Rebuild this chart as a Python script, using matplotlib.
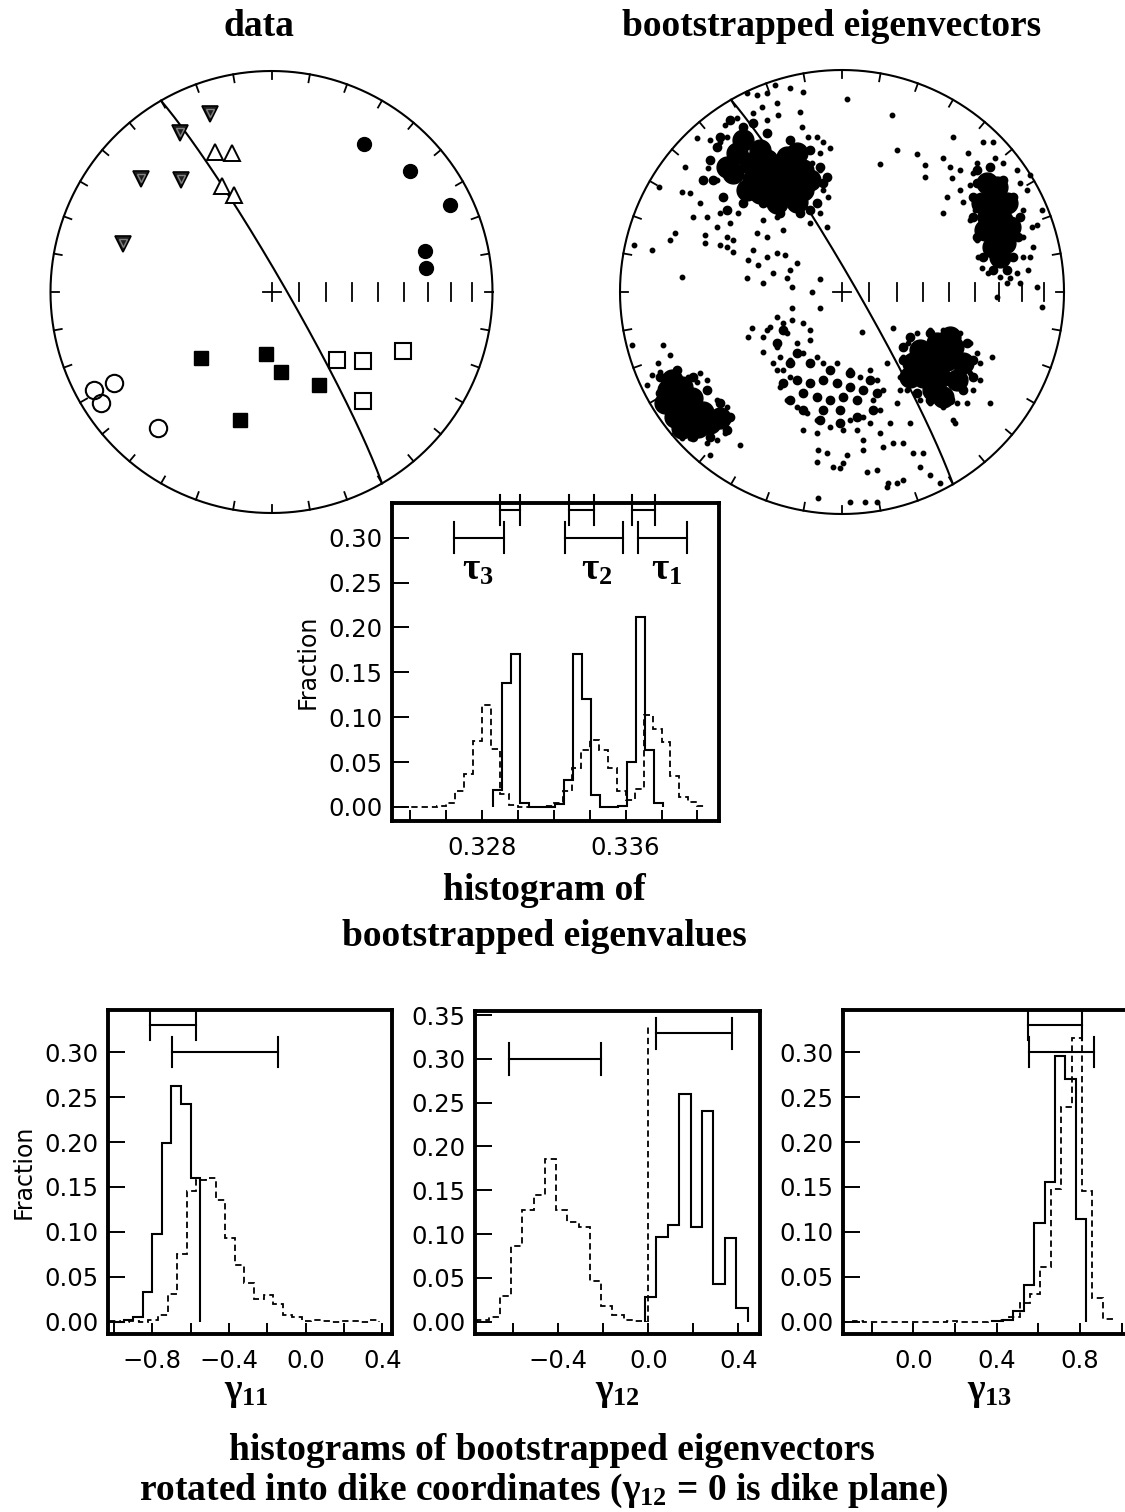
import numpy as np
import matplotlib
matplotlib.use("Agg")
import matplotlib.pyplot as plt
from matplotlib.ticker import FixedLocator, FixedFormatter

# ---------------------------------------------------------------- data
# AMS principal axes of the dike samples: declination / inclination (deg)
tri_gray_dec = [341, 330, 311, 321, 288]
tri_gray_inc = [16, 18, 23, 35, 30]
tri_open_dec = [338, 344, 335, 339]
tri_open_inc = [32, 35, 46, 51]
circ_fill_dec = [32, 49, 64, 75, 81]
circ_fill_inc = [22, 18, 11, 29, 30]
circ_open_dec = [241, 240, 237, 220]
circ_open_inc = [9, 19, 9, 21]
sq_fill_dec = [227, 185, 173, 153, 194]
sq_fill_inc = [54, 67, 60, 51, 40]
sq_open_dec = [136, 127, 114, 140]
sq_open_inc = [55, 47, 35, 36]

# dike plane (strike, dip; right-hand rule)
dike_strike, dike_dip = 330.0, 85.0

# bootstrapped eigenvectors, Lambert equal-area coordinates (east, north)
# solid cores of the clouds
boot_core = [
    (-0.249, 0.520), (-0.324, 0.550), (-0.174, 0.550), (-0.249, 0.610), (-0.249, 0.444),
    (-0.324, 0.474), (-0.174, 0.459), (-0.144, 0.505), (-0.339, 0.595), (-0.204, 0.625),
    (-0.294, 0.399), (-0.204, 0.407), (-0.414, 0.580), (-0.474, 0.625), (-0.369, 0.640),
    (-0.489, 0.535), (-0.399, 0.505), (-0.444, 0.685), (-0.354, 0.550), (-0.520, 0.565),
    (-0.429, 0.459), (-0.369, 0.444), (-0.294, 0.505), (-0.384, 0.565), (-0.264, 0.565),
    (-0.204, 0.505),
    (0.652, 0.489), (0.674, 0.429), (0.697, 0.369), (0.682, 0.309), (0.719, 0.324),
    (0.659, 0.339), (0.704, 0.249), (0.682, 0.204), (0.734, 0.219), (0.644, 0.279),
    (0.742, 0.399), (0.712, 0.159), (0.757, 0.294), (0.629, 0.399), (0.697, 0.474),
    (-0.782, -0.441), (-0.722, -0.426), (-0.797, -0.502), (-0.737, -0.494), (-0.677, -0.479),
    (-0.752, -0.562), (-0.685, -0.554), (-0.625, -0.539), (-0.595, -0.592), (-0.550, -0.569),
    (-0.647, -0.607), (-0.722, -0.614), (-0.767, -0.396), (-0.760, -0.486),
    (0.351, -0.261), (0.426, -0.231), (0.502, -0.246), (0.321, -0.321), (0.396, -0.306),
    (0.471, -0.306), (0.547, -0.321), (0.366, -0.381), (0.441, -0.381), (0.517, -0.396),
    (0.411, -0.441), (0.486, -0.201), (0.306, -0.381), (0.456, -0.471),
]
# crowded directions around the cores
boot_dense = [
    (-0.550, 0.700), (-0.444, 0.745), (-0.339, 0.715), (-0.234, 0.685), (-0.144, 0.640),
    (-0.099, 0.565), (-0.084, 0.489), (-0.114, 0.399), (-0.189, 0.354), (-0.279, 0.354),
    (-0.354, 0.399), (-0.444, 0.399), (-0.535, 0.429), (-0.580, 0.505), (-0.595, 0.595),
    (-0.565, 0.655), (-0.339, 0.505), (-0.459, 0.550), (-0.505, 0.775), (-0.399, 0.760),
    (-0.625, 0.505), (-0.520, 0.369), (-0.144, 0.369), (-0.069, 0.520),
    (0.607, 0.550), (0.667, 0.565), (0.727, 0.505), (0.772, 0.429), (0.802, 0.339),
    (0.794, 0.249), (0.772, 0.159), (0.742, 0.099), (0.682, 0.099), (0.637, 0.159),
    (0.607, 0.249), (0.592, 0.339), (0.592, 0.429), (0.607, 0.489),
    (-0.820, -0.381), (-0.745, -0.351), (-0.670, -0.381), (-0.610, -0.441), (-0.550, -0.502),
    (-0.505, -0.562), (-0.520, -0.622), (-0.595, -0.652), (-0.670, -0.652), (-0.745, -0.622),
    (-0.820, -0.456),
    (-0.144, -0.411), (-0.084, -0.396), (-0.024, -0.411), (0.036, -0.426), (-0.114, -0.471),
    (-0.054, -0.486), (0.006, -0.471), (0.066, -0.486), (-0.084, -0.532), (-0.009, -0.532),
    (-0.174, -0.456), (0.096, -0.441), (-0.204, -0.396), (-0.234, -0.321), (-0.144, -0.321),
    (-0.054, -0.351), (0.036, -0.366), (0.126, -0.396), (0.156, -0.456), (0.141, -0.532),
    (0.066, -0.562), (-0.009, -0.592), (-0.099, -0.577), (-0.174, -0.532), (-0.234, -0.486),
    (-0.264, -0.411), (-0.204, -0.276), (-0.294, -0.231), (-0.264, -0.171),
    (0.306, -0.201), (0.396, -0.186), (0.486, -0.186), (0.562, -0.231), (0.592, -0.306),
    (0.592, -0.381), (0.547, -0.441), (0.486, -0.486), (0.396, -0.486), (0.336, -0.456),
    (0.291, -0.396), (0.276, -0.306), (0.276, -0.246),
]
# individual bootstrap directions
boot_pts = [
    (-0.302, 0.932), (-0.339, 0.895), (-0.384, 0.887), (-0.429, 0.895), (-0.234, 0.917),
    (-0.174, 0.902), (-0.294, 0.850), (-0.362, 0.835), (-0.399, 0.805), (-0.287, 0.797),
    (-0.339, 0.775), (-0.474, 0.782), (-0.527, 0.752), (-0.520, 0.700), (-0.595, 0.685),
    (-0.550, 0.677), (-0.655, 0.692), (-0.707, 0.565), (-0.602, 0.557), (-0.565, 0.505),
    (-0.685, 0.444), (-0.722, 0.452), (-0.640, 0.399), (-0.670, 0.339), (-0.610, 0.339),
    (-0.550, 0.354), (-0.505, 0.309), (-0.467, 0.354), (-0.565, 0.294), (-0.520, 0.249),
    (-0.617, 0.257), (-0.489, 0.234), (-0.384, 0.264), (-0.354, 0.324), (-0.294, 0.339),
    (-0.339, 0.249), (-0.264, 0.279), (-0.399, 0.189), (-0.339, 0.159), (-0.294, 0.174),
    (-0.257, 0.167), (-0.422, 0.144), (-0.429, 0.062), (-0.377, 0.122), (-0.309, 0.084),
    (-0.249, 0.062), (-0.227, 0.024), (-0.204, 0.129), (-0.234, 0.099), (-0.144, 0.309),
    (-0.099, 0.354), (-0.069, 0.294), (-0.084, 0.459), (-0.062, 0.429), (-0.099, 0.625),
    (-0.084, 0.677), (-0.054, 0.647), (-0.114, 0.700), (-0.189, 0.812), (-0.182, 0.745),
    (-0.152, 0.700), (-0.137, 0.580), (-0.099, 0.550), (-0.520, 0.204), (-0.550, 0.212),
    (-0.617, 0.219), (-0.489, 0.182), (-0.752, 0.264), (-0.775, 0.234), (-0.854, 0.189),
    (-0.937, 0.212), (-0.823, 0.471), (-0.722, 0.069), (-0.099, 0.057), (-0.137, 0.002),
    (-0.354, 0.039),
    (0.021, 0.868), (0.224, 0.797), (0.246, 0.640), (0.171, 0.575), (0.339, 0.622),
    (0.374, 0.572), (0.374, 0.517), (0.502, 0.700), (0.456, 0.354),
    (0.456, 0.602), (0.486, 0.565), (0.532, 0.550), (0.494, 0.512), (0.569, 0.625),
    (0.637, 0.677), (0.682, 0.677), (0.607, 0.580), (0.689, 0.602), (0.577, 0.482),
    (0.532, 0.459), (0.547, 0.407), (0.592, 0.535), (0.471, 0.429), (0.599, 0.369),
    (0.577, 0.324), (0.607, 0.234), (0.614, 0.159), (0.629, 0.107), (0.659, 0.084),
    (0.712, 0.069), (0.742, 0.039), (0.757, 0.062), (0.787, 0.084), (0.817, 0.159),
    (0.839, 0.099), (0.862, 0.204), (0.877, 0.302), (0.899, 0.369), (0.832, 0.459),
    (0.847, 0.527), (0.802, 0.489), (0.787, 0.550), (0.817, 0.369), (0.854, 0.294),
    (0.727, 0.580), (0.802, 0.039), (0.877, 0.024), (0.899, -0.066), (0.697, -0.021),
    (0.817, 0.249), (0.847, 0.159),
    (-0.805, -0.239), (-0.775, -0.284), (-0.827, -0.321), (-0.857, -0.374), (-0.820, -0.359),
    (-0.640, -0.366), (-0.610, -0.396), (-0.565, -0.486), (-0.520, -0.517), (-0.512, -0.577),
    (-0.527, -0.637), (-0.565, -0.667), (-0.610, -0.682), (-0.595, -0.734), (-0.685, -0.659),
    (-0.722, -0.659), (-0.880, -0.419), (-0.459, -0.689), (-0.655, -0.404), (-0.745, -0.359),
    (-0.692, -0.381), (-0.947, -0.239),
    (-0.324, -0.156), (-0.294, -0.111), (-0.264, -0.141), (-0.227, -0.126), (-0.249, -0.186),
    (-0.204, -0.231), (-0.294, -0.246), (-0.279, -0.291), (-0.234, -0.306), (-0.174, -0.276),
    (-0.144, -0.216), (-0.114, -0.291), (-0.084, -0.321), (-0.024, -0.321), (0.036, -0.351),
    (0.081, -0.381), (0.126, -0.351), (0.156, -0.396), (0.186, -0.441), (0.141, -0.486),
    (0.171, -0.532), (0.096, -0.562), (0.036, -0.577), (0.006, -0.622), (-0.054, -0.607),
    (-0.114, -0.577), (-0.159, -0.547), (-0.204, -0.517), (-0.249, -0.486), (-0.279, -0.426),
    (-0.294, -0.351), (-0.234, -0.381), (-0.339, -0.171), (-0.174, -0.141), (-0.144, -0.171),
    (-0.354, -0.201), (-0.309, -0.321), (-0.264, -0.351), (0.201, -0.321), (0.126, -0.592),
    (0.066, -0.622), (-0.114, -0.637), (-0.174, -0.622), (0.096, -0.667), (0.171, -0.637),
    (-0.227, -0.074), (-0.099, -0.071), (-0.407, -0.164), (-0.422, -0.201), (-0.354, -0.269),
    (0.089, -0.179), (0.231, -0.164), (0.246, -0.502), (0.261, -0.441), (0.216, -0.592),
    (0.231, -0.682), (0.276, -0.682), (0.321, -0.727), (0.366, -0.727), (0.396, -0.824),
    (0.441, -0.862), (0.351, -0.787), (0.276, -0.847), (0.246, -0.862), (0.201, -0.877),
    (0.156, -0.802), (0.111, -0.809), (0.036, -0.944), (0.104, -0.944), (0.156, -0.944),
    (0.006, -0.772), (-0.009, -0.794), (-0.039, -0.787), (-0.069, -0.727), (-0.107, -0.712),
    (-0.114, -0.764), (0.021, -0.734), (0.096, -0.712), (0.186, -0.697), (0.306, -0.592),
    (-0.107, -0.929), (0.209, -0.862),
    (0.336, -0.186), (0.396, -0.171), (0.456, -0.171), (0.532, -0.186), (0.577, -0.231),
    (0.607, -0.276), (0.622, -0.321), (0.622, -0.396), (0.592, -0.441), (0.562, -0.502),
    (0.517, -0.502), (0.456, -0.517), (0.396, -0.502), (0.351, -0.486), (0.291, -0.441),
    (0.261, -0.381), (0.276, -0.291), (0.299, -0.231), (0.674, -0.291), (0.667, -0.502),
    (0.502, -0.577), (0.509, -0.592), (0.577, -0.366),
]

# bootstrapped eigenvalues: histogram fractions (bin start, bin width, heights)
tau_boot_start, tau_boot_width = 0.3286, 0.0005
tau_boot = [0.019, 0.138, 0.170, 0.005, 0, 0, 0, 0.003, 0.030, 0.170, 0.120, 0.013,
            0, 0, 0.001, 0.050, 0.212, 0.063, 0.005]
tau_param_start, tau_param_width = 0.3235, 0.0005
tau_param = [0, 0, 0, 0, 0.001, 0.005, 0.018, 0.037, 0.073, 0.114, 0.065, 0.014, 0.002,
             0, 0, 0, 0.001, 0.005, 0.018, 0.043, 0.064, 0.075, 0.064, 0.043, 0.018,
             0.008, 0.020, 0.102, 0.087, 0.072, 0.035, 0.011, 0.006, 0.001]
tau_boot_ci = [(0.32902, 0.33014), (0.33284, 0.33423), (0.33637, 0.33764)]
tau_param_ci = [(0.32647, 0.32921), (0.33261, 0.33585), (0.33671, 0.33944)]
tau_names = [r"$\tau_3$", r"$\tau_2$", r"$\tau_1$"]
tau_label_x = [0.3278, 0.3344, 0.3383]

# eigenvector components in dike coordinates
g11_boot_start, g11_boot_width = -1.00, 0.05
g11_boot = [0.0, 0.002, 0.005, 0.033, 0.098, 0.199, 0.262, 0.242, 0.160]
g11_param_start, g11_param_width = -1.02, 0.05
g11_param = [0.001, 0.0, 0.001, 0.0, 0.002, 0.007, 0.031, 0.075, 0.145, 0.158, 0.160,
             0.136, 0.093, 0.063, 0.043, 0.025, 0.030, 0.020, 0.007, 0.005, 0.001,
             0.002, 0.001, 0.0, 0.001, 0.001, 0.0, 0.002]
g11_boot_ci = (-0.81, -0.57)
g11_param_ci = (-0.696, -0.143)

g12_boot_start, g12_boot_width = -0.015, 0.0507
g12_boot = [0.028, 0.097, 0.110, 0.260, 0.108, 0.240, 0.043, 0.096, 0.016]
g12_param_start, g12_param_width = -0.76, 0.05
g12_param = [0.002, 0.005, 0.029, 0.086, 0.127, 0.145, 0.186, 0.128, 0.114, 0.108,
             0.046, 0.018, 0.008, 0.002, 0.001]
g12_boot_ci = (0.034, 0.371)
g12_param_ci = (-0.619, -0.210)

g13_boot_start, g13_boot_width = 0.38, 0.05
g13_boot = [0.001, 0.002, 0.012, 0.041, 0.110, 0.155, 0.296, 0.270, 0.114]
g13_param_start, g13_param_width = -0.34, 0.05
g13_param = [0, 0.001, 0, 0, 0, 0, 0, 0, 0, 0, 0.001, 0, 0, 0, 0.001, 0.002,
             0.005, 0.021, 0.031, 0.061, 0.148, 0.239, 0.316, 0.146, 0.026, 0.003]
g13_boot_ci = (0.549, 0.808)
g13_param_ci = (0.557, 0.869)

# ---------------------------------------------------------------- style
W, H = 1125, 1512
plt.rcParams.update({
    "font.family": ["DejaVu Sans"],
    "mathtext.fontset": "custom",
    "mathtext.rm": "Liberation Serif:bold",
    "mathtext.it": "Liberation Serif:bold",
    "mathtext.bf": "Liberation Serif:bold",
    "mathtext.sf": "Liberation Serif:bold",
})
SERIF = dict(family="Liberation Serif", weight="bold", fontsize=27)

fig = plt.figure(figsize=(W / 100, H / 100), dpi=100)


def px_axes(left, top, right, bottom):
    return fig.add_axes([left / W, (H - bottom) / H, (right - left) / W, (bottom - top) / H])


def fig_text(x, y, s, **kw):
    fig.text(x / W, (H - y) / H, s, **kw)


def project(dec, inc):
    dec = np.radians(np.asarray(dec, float))
    inc = np.radians(np.asarray(inc, float))
    r = np.sqrt(2.0) * np.sin((np.pi / 2 - inc) / 2)
    return r * np.sin(dec), r * np.cos(dec)


def stereonet(cx, cy, R):
    half = 1.1 * R
    ax = px_axes(cx - half, cy - half, cx + half, cy + half)
    ax.set_xlim(-1.1, 1.1)
    ax.set_ylim(-1.1, 1.1)
    ax.set_aspect("equal")
    ax.axis("off")
    ax.patch.set_alpha(0)
    t = np.linspace(0, 2 * np.pi, 721)
    ax.plot(np.cos(t), np.sin(t), color="k", lw=1.5)
    tick = 8.0 / R
    for az in np.radians(np.arange(0, 360, 10)):
        ax.plot([(1 - tick) * np.sin(az), np.sin(az)],
                [(1 - tick) * np.cos(az), np.cos(az)], color="k", lw=1.3)
    c = 9.0 / R
    ax.plot([-c, c], [0, 0], color="k", lw=1.3)
    ax.plot([0, 0], [-c, c], color="k", lw=1.3)
    for pl in range(10, 90, 10):
        r = np.sqrt(2.0) * np.sin(np.radians(90 - pl) / 2)
        ax.plot([r, r], [-c, c], color="k", lw=1.3)
    # dike plane as a great circle
    s = np.array([np.sin(np.radians(dike_strike)), np.cos(np.radians(dike_strike)), 0.0])
    dd = np.radians(dike_strike + 90)
    dv = np.array([np.cos(np.radians(dike_dip)) * np.sin(dd),
                   np.cos(np.radians(dike_dip)) * np.cos(dd),
                   np.sin(np.radians(dike_dip))])
    th = np.linspace(0, np.pi, 400)
    v = np.outer(np.cos(th), s) + np.outer(np.sin(th), dv)
    trend = np.degrees(np.arctan2(v[:, 0], v[:, 1]))
    plunge = np.degrees(np.arcsin(np.clip(v[:, 2], -1, 1)))
    gx, gy = project(trend, plunge)
    ax.plot(gx, gy, color="k", lw=1.5)
    return ax


# ---------------------------------------------------------------- stereonets
axL = stereonet(271.5, 292, 221)
mk = dict(linestyle="none", clip_on=False)
x, y = project(tri_gray_dec, tri_gray_inc)
axL.plot(x, y, marker="v", ms=12, mfc="#1e1e1e", mec="k", mew=1.2, **mk)
axL.plot(x, y + 0.004, marker="v", ms=5.5, mfc="none", mec="#808080", mew=1.0, **mk)
x, y = project(tri_open_dec, tri_open_inc)
axL.plot(x, y, marker="^", ms=11, mfc="white", mec="k", mew=1.4, **mk)
x, y = project(circ_fill_dec, circ_fill_inc)
axL.plot(x, y, marker="o", ms=10, mfc="k", mec="k", **mk)
x, y = project(circ_open_dec, circ_open_inc)
axL.plot(x, y, marker="o", ms=12.5, mfc="none", mec="k", mew=1.5, **mk)
x, y = project(sq_fill_dec, sq_fill_inc)
axL.plot(x, y, marker="s", ms=10, mfc="k", mec="k", **mk)
x, y = project(sq_open_dec, sq_open_inc)
axL.plot(x, y, marker="s", ms=11, mfc="white", mec="k", mew=1.5, **mk)

axR = stereonet(842, 292, 222)
bc = np.array(boot_core)
bd = np.array(boot_dense)
bp = np.array(boot_pts)
axR.plot(bp[:, 0], bp[:, 1], marker="o", ms=3.2, color="k", linestyle="none")
axR.plot(bd[:, 0], bd[:, 1], marker="o", ms=6.0, color="k", linestyle="none")
axR.plot(bc[:, 0], bc[:, 1], marker="o", ms=15, color="k", linestyle="none")

fig_text(259, 36, "data", ha="center", va="baseline", **SERIF)
fig_text(832, 36, "bootstrapped eigenvectors", ha="center", va="baseline", **SERIF)

# ---------------------------------------------------------------- histograms
SOLID = dict(color="k", lw=1.5)
DASHED = dict(color="k", lw=1.3, linestyle=(0, (3.5, 2.2)))


def hist_frame(ax, xlim, ylim, major, labels, minor, yticks):
    ax.set_xlim(*xlim)
    ax.set_ylim(*ylim)
    for sp in ax.spines.values():
        sp.set_linewidth(2.8)
    ax.xaxis.set_major_locator(FixedLocator(major))
    ax.xaxis.set_major_formatter(FixedFormatter(labels))
    ax.xaxis.set_minor_locator(FixedLocator(minor))
    ax.yaxis.set_major_locator(FixedLocator(yticks))
    ax.yaxis.set_major_formatter(FixedFormatter(["%.2f" % v for v in yticks]))
    ax.tick_params(axis="x", which="both", direction="in", length=8, width=1.4,
                   labelsize=17.5, pad=11, top=False)
    ax.tick_params(axis="y", which="major", direction="in", length=12, width=1.4,
                   labelsize=17.5, pad=7, right=False)
    ax.tick_params(axis="y", which="minor", left=False, right=False)


def stairs(ax, start, width, heights, style):
    edges = start + width * np.arange(len(heights) + 1)
    ax.stairs(heights, edges, baseline=0, fill=False, **style)


def ci(ax, lo, hi, yv, cap=0.017):
    kw = dict(color="k", lw=1.5, clip_on=False)
    ax.plot([lo, hi], [yv, yv], **kw)
    ax.plot([lo, lo], [yv - cap, yv + cap], **kw)
    ax.plot([hi, hi], [yv - cap, yv + cap], **kw)


yt30 = [0.0, 0.05, 0.10, 0.15, 0.20, 0.25, 0.30]

# eigenvalues
axT = px_axes(392, 503, 719, 821)
hist_frame(axT, (0.3230, 0.3412), (-0.0156, 0.3387), [0.328, 0.336], ["0.328", "0.336"],
           [0.324, 0.326, 0.330, 0.332, 0.334, 0.338, 0.340], yt30)
stairs(axT, tau_param_start, tau_param_width, tau_param, DASHED)
stairs(axT, tau_boot_start, tau_boot_width, tau_boot, SOLID)
for lo, hi in tau_boot_ci:
    ci(axT, lo, hi, 0.331)
for lo, hi in tau_param_ci:
    ci(axT, lo, hi, 0.300)
for name, xv in zip(tau_names, tau_label_x):
    axT.text(xv, 0.253, name, ha="center", va="baseline", fontsize=27)
axT.set_ylabel("Fraction", fontsize=17, labelpad=6)
fig_text(544, 900, "histogram of", ha="center", va="baseline", **SERIF)
fig_text(544, 946, "bootstrapped eigenvalues", ha="center", va="baseline", **SERIF)

# gamma 11
ax1 = px_axes(108, 1010, 392, 1334)
hist_frame(ax1, (-1.031, 0.450), (-0.0137, 0.347), [-0.8, -0.4, 0.0, 0.4],
           ["\u22120.8", "\u22120.4", "0.0", "0.4"], [-1.0, -0.6, -0.2, 0.2], yt30)
stairs(ax1, g11_param_start, g11_param_width, g11_param, DASHED)
stairs(ax1, g11_boot_start, g11_boot_width, g11_boot, SOLID)
ci(ax1, *g11_boot_ci, 0.3305)
ci(ax1, *g11_param_ci, 0.300)
ax1.set_ylabel("Fraction", fontsize=17, labelpad=6)

# gamma 12
ax2 = px_axes(475, 1011, 760, 1334)
hist_frame(ax2, (-0.770, 0.496), (-0.014, 0.3546), [-0.4, 0.0, 0.4],
           ["\u22120.4", "0.0", "0.4"], [-0.6, -0.2, 0.2], yt30 + [0.35])
stairs(ax2, g12_param_start, g12_param_width, g12_param, DASHED)
stairs(ax2, g12_boot_start, g12_boot_width, g12_boot, SOLID)
ax2.plot([0, 0], [0, 0.34], **DASHED)
ci(ax2, *g12_param_ci, 0.300, cap=0.018)
ci(ax2, *g12_boot_ci, 0.329, cap=0.018)

# gamma 13
ax3 = px_axes(843, 1010, 1135, 1334)
hist_frame(ax3, (-0.3375, 1.064), (-0.0137, 0.347), [0.0, 0.4, 0.8],
           ["0.0", "0.4", "0.8"], [-0.2, 0.2, 0.6, 1.0], yt30)
stairs(ax3, g13_param_start, g13_param_width, g13_param, DASHED)
stairs(ax3, g13_boot_start, g13_boot_width, g13_boot, SOLID)
ci(ax3, *g13_boot_ci, 0.3305)
ci(ax3, *g13_param_ci, 0.300)

for xc, lab in [(246, r"$\gamma_{11}$"), (617, r"$\gamma_{12}$"), (990, r"$\gamma_{13}$")]:
    fig_text(xc, 1400, lab, ha="center", va="baseline", fontsize=27)

fig_text(552, 1460, "histograms of bootstrapped eigenvectors",
         ha="center", va="baseline", **SERIF)
fig_text(544, 1500, r"rotated into dike coordinates ($\gamma_{12}$ = 0 is dike plane)",
         ha="center", va="baseline", **SERIF)

fig.savefig("out.png", dpi=100)
